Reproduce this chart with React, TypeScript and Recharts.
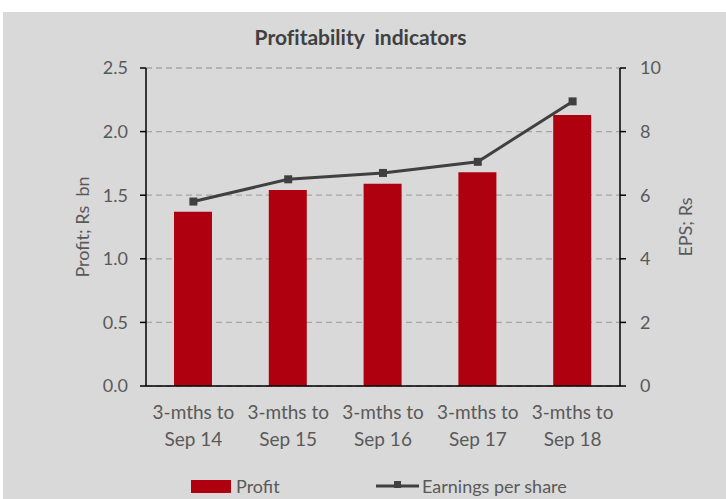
import React from 'react';
import { ComposedChart, Bar, Line, XAxis, YAxis, CartesianGrid, Legend } from 'recharts';

const periodTop = ['3-mths to', '3-mths to', '3-mths to', '3-mths to', '3-mths to'];
const periodBottom = ['Sep 14', 'Sep 15', 'Sep 16', 'Sep 17', 'Sep 18'];
const profitBn = [1.37, 1.54, 1.59, 1.68, 2.13];
const epsRs = [5.8, 6.5, 6.7, 7.05, 8.95];
const profitTicks = [0, 0.5, 1.0, 1.5, 2.0, 2.5];
const epsTicks = [0, 2, 4, 6, 8, 10];

const data = periodBottom.map((p, i) => ({
  period: p,
  top: periodTop[i],
  profit: profitBn[i],
  eps: epsRs[i],
}));

const FONT = 'Lato, "Liberation Sans", sans-serif';
const TEXT = '#595959';
const RED = '#ae000e';
const LINE = '#404040';

const CategoryTick = (props: any) => {
  const { x, y, payload, index } = props;
  return (
    <g transform={`translate(${x},${y})`}>
      <text textAnchor="middle" fill={TEXT} fontSize={19} fontFamily={FONT}>
        <tspan x={0} dy={25}>{periodTop[index]}</tspan>
        <tspan x={0} dy={27}>{payload.value}</tspan>
      </text>
    </g>
  );
};

const SquareDot = (props: any) => {
  const { cx, cy } = props;
  if (cx == null || cy == null) return null;
  return <rect x={cx - 4} y={cy - 4} width={8} height={8} fill={LINE} />;
};

const LegendContent = () => (
  <div style={{ position: 'relative', height: 22, width: 723, fontFamily: FONT, fontSize: 18, color: TEXT }}>
    <div style={{ position: 'absolute', left: 188, top: 5, width: 40, height: 13, background: RED }} />
    <span style={{ position: 'absolute', left: 233, top: 0 }}>Profit</span>
    <svg style={{ position: 'absolute', left: 373, top: 0 }} width={44} height={22}>
      <line x1={0} y1={11} x2={43} y2={11} stroke={LINE} strokeWidth={3} />
      <rect x={18} y={6} width={7} height={7} fill={LINE} />
    </svg>
    <span style={{ position: 'absolute', left: 419, top: 0 }}>Earnings per share</span>
  </div>
);

export default function App() {
  return (
    <div style={{ position: 'absolute', left: 3, top: 12, width: 723, height: 487, background: '#d9d9d9' }}>
      <div
        style={{
          position: 'absolute',
          left: 0,
          width: 723,
          top: 12,
          textAlign: 'center',
          fontFamily: FONT,
          fontWeight: 700,
          fontSize: 21,
          color: '#404040',
          paddingRight: 8,
          boxSizing: 'border-box',
          fontVariantLigatures: 'none',
        }}
      >
        Profitability&nbsp; indicators
      </div>
      <ComposedChart
        width={723}
        height={487}
        data={data}
        margin={{ top: 56, right: 46, left: 83, bottom: 2 }}
      >
        <CartesianGrid vertical={false} yAxisId="left" stroke="#a6a6a6" strokeDasharray="6 4" strokeWidth={1.3} />
        <XAxis
          dataKey="period"
          height={89}
          tick={<CategoryTick />}
          tickLine={false}
          axisLine={{ stroke: '#000', strokeWidth: 1.5 }}
          interval={0}
        />
        <YAxis
          yAxisId="left"
          width={60}
          domain={[0, 2.5]}
          ticks={profitTicks}
          tickFormatter={(v: number) => v.toFixed(1)}
          tick={{ fill: TEXT, fontSize: 18, fontFamily: FONT }}
          tickLine={{ stroke: '#000', strokeWidth: 1.5 }}
          tickSize={6}
          tickMargin={12}
          axisLine={{ stroke: '#000', strokeWidth: 1.5 }}
          label={{
            value: 'Profit; Rs\u00a0\u00a0bn',
            angle: -90,
            position: 'center',
            dx: -33,
            style: { fill: TEXT, fontSize: 18, fontFamily: FONT },
          }}
        />
        <YAxis
          yAxisId="right"
          orientation="right"
          width={60}
          domain={[0, 10]}
          ticks={epsTicks}
          tick={{ fill: TEXT, fontSize: 18, fontFamily: FONT }}
          tickLine={{ stroke: '#000', strokeWidth: 1.5 }}
          tickSize={6}
          tickMargin={14}
          axisLine={{ stroke: '#000', strokeWidth: 1.5 }}
          label={{
            value: 'EPS; Rs',
            angle: -90,
            position: 'center',
            dx: 36,
            style: { fill: TEXT, fontSize: 18, fontFamily: FONT },
          }}
        />
        <Bar yAxisId="left" dataKey="profit" name="Profit" fill={RED} barSize={38} isAnimationActive={false} />
        <Line
          yAxisId="right"
          dataKey="eps"
          name="Earnings per share"
          stroke={LINE}
          strokeWidth={3}
          dot={<SquareDot />}
          activeDot={false}
          isAnimationActive={false}
        />
        <Legend verticalAlign="bottom" wrapperStyle={{ left: 0, width: 723 }} content={<LegendContent />} />
      </ComposedChart>
    </div>
  );
}
